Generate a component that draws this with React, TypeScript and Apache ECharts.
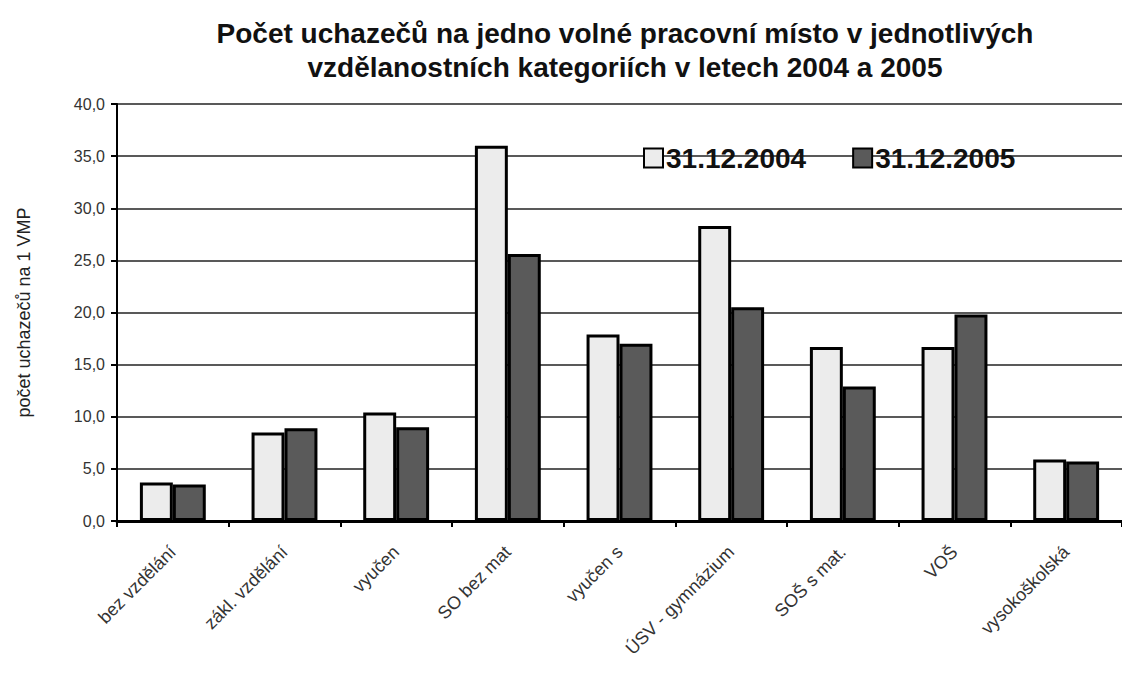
import React, { useEffect, useRef } from "react";
import * as echarts from "echarts";

const categories = [
  "bez vzdělání",
  "zákl. vzdělání",
  "vyučen",
  "SO bez mat",
  "vyučen s",
  "ÚSV - gymnázium",
  "SOŠ s mat.",
  "VOŠ",
  "vysokoškolská",
];
const series2004 = [3.7, 8.5, 10.4, 36.0, 17.9, 28.3, 16.7, 16.7, 5.9];
const series2005 = [3.5, 8.9, 9.0, 25.6, 17.0, 20.5, 12.9, 19.8, 5.7];
const seriesNames = ["31.12.2004", "31.12.2005"];
const titleLines = [
  "Počet uchazečů na jedno volné pracovní místo v jednotlivých",
  "vzdělanostních kategoriích v letech 2004 a 2005",
];
const yAxisName = "počet uchazečů na 1 VMP";

export default function App() {
  const ref = useRef<HTMLDivElement>(null);
  useEffect(() => {
    if (!ref.current) return;
    const chart = echarts.init(ref.current, undefined, { renderer: "svg" });
    const font = "Liberation Sans, Arial, sans-serif";
    chart.setOption({
      animation: false,
      backgroundColor: "#ffffff",
      textStyle: { fontFamily: font },
      title: {
        text: titleLines.join("\n"),
        left: 620,
        textAlign: "center",
        top: 11,
        textStyle: {
          fontFamily: font,
          fontSize: 28,
          fontWeight: "bold",
          color: "#111",
          lineHeight: 34,
        },
      },
      legend: {
        data: seriesNames,
        left: 638,
        top: 139,
        itemWidth: 19,
        itemHeight: 19,
        itemGap: 46,
        icon: "rect",
        textStyle: {
          fontFamily: font,
          fontSize: 28,
          fontWeight: "bold",
          color: "#111",
          padding: [0, 0, 0, -2],
        },
      },
      grid: { left: 117, top: 104, right: -10, bottom: 158 },
      xAxis: {
        type: "category",
        data: categories,
        axisLine: { show: true, lineStyle: { color: "#000", width: 3 } },
        axisTick: { show: true, length: 6, lineStyle: { color: "#000", width: 2 } },
        axisLabel: {
          interval: 0,
          rotate: 45,
          margin: 28,
          fontSize: 18,
          color: "#333",
          fontFamily: font,
        },
      },
      yAxis: {
        type: "value",
        min: 0,
        max: 40,
        interval: 5,
        name: yAxisName,
        nameLocation: "middle",
        nameGap: 84,
        nameRotate: 90,
        nameTextStyle: { fontSize: 18, color: "#222", fontFamily: font },
        axisLine: { show: true, lineStyle: { color: "#000", width: 2 } },
        axisTick: { show: true, length: 6, lineStyle: { color: "#000", width: 2 } },
        axisLabel: {
          margin: 12,
          fontSize: 16,
          color: "#333",
          fontFamily: font,
          formatter: (v: number) => v.toFixed(1).replace(".", ","),
        },
        splitLine: { show: true, lineStyle: { color: "#222", width: 1.5 } },
      },
      series: [
        {
          name: seriesNames[0],
          type: "bar",
          data: series2004,
          barGap: "0%",
          barCategoryGap: "41%",
          itemStyle: { color: "#ececec", borderColor: "#000", borderWidth: 3 },
        },
        {
          name: seriesNames[1],
          type: "bar",
          data: series2005,
          barGap: "0%",
          barCategoryGap: "41%",
          itemStyle: { color: "#5a5a5a", borderColor: "#000", borderWidth: 3 },
        },
      ],
    });
    return () => chart.dispose();
  }, []);
  return (
    <div
      ref={ref}
      style={{ position: "absolute", left: 0, top: 0, width: 1122, height: 679 }}
    />
  );
}
